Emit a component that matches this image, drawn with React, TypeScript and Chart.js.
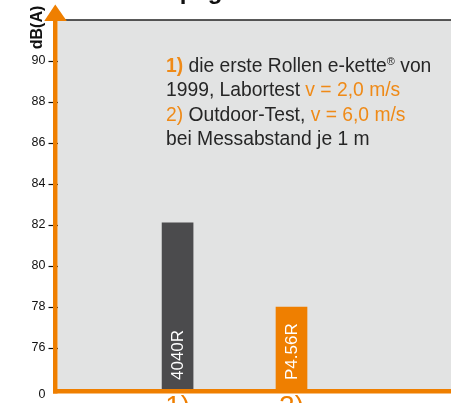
import React, { useEffect, useRef } from "react";
import { Chart, registerables } from "chart.js";

Chart.register(...registerables);

// ---- data ----
const TITLE = "Geräuschpegel";
const Y_AXIS_TITLE = "dB(A)";
const CATEGORIES = ["1)", "2)"];
const PRODUCTS = ["4040R", "P4.56R"];
const NOISE_DBA = [82.1, 78.0];
const X_POSITIONS = [1, 2];
const Y_MIN = 74;
const Y_MAX = 92;
const Y_STEP = 2;
const Y_BREAK_LABEL = "0";
const NOTE_LINES = [
  [
    { t: "1)", accent: true, bold: true },
    { t: " die erste Rollen e-kette" },
    { t: "®", sup: true },
    { t: " von" },
  ],
  [{ t: "1999, Labortest " }, { t: "v = 2,0 m/s", accent: true }],
  [{ t: "2)", accent: true }, { t: " Outdoor-Test, " }, { t: "v = 6,0 m/s", accent: true }],
  [{ t: "bei Messabstand je 1 m" }],
];

// ---- style ----
const FONT = "'Liberation Sans', Arial, Helvetica, sans-serif";
const ORANGE = "#EF7F00";
const ORANGE_TEXT = "#EF8A17";
const DARK_BAR = "#4B4B4D";
const PLOT_BG = "#E2E3E3";
const TEXT_DARK = "#262626";

const decorPlugin = {
  id: "decor",
  beforeDraw(chart: any) {
    const { ctx, chartArea: a } = chart;
    ctx.save();
    ctx.fillStyle = PLOT_BG;
    ctx.fillRect(a.left, a.top, a.right - a.left, a.bottom - a.top);
    ctx.strokeStyle = "#222";
    ctx.lineWidth = 1.5;
    ctx.beginPath();
    ctx.moveTo(a.left, a.top);
    ctx.lineTo(a.right, a.top);
    ctx.stroke();
    ctx.restore();
  },
  afterDatasetsDraw(chart: any) {
    const { ctx, chartArea: a } = chart;
    ctx.save();

    // bar labels (rotated, white)
    const meta = chart.getDatasetMeta(0);
    meta.data.forEach((el: any, i: number) => {
      ctx.save();
      ctx.translate(el.x + 0.5, a.bottom - 9);
      ctx.rotate(-Math.PI / 2);
      ctx.fillStyle = "#ffffff";
      ctx.font = `17px ${FONT}`;
      ctx.textAlign = "left";
      ctx.textBaseline = "middle";
      ctx.fillText(PRODUCTS[i], 0, 0);
      ctx.restore();
    });

    // axes (orange)
    const w = 4.5;
    ctx.fillStyle = ORANGE;
    ctx.fillRect(a.left - w, a.top, w, a.bottom - a.top + w);
    ctx.fillRect(a.left - w, a.bottom, a.right - a.left + w, w);
    // arrow
    const cx = a.left - w / 2;
    ctx.beginPath();
    ctx.moveTo(cx, 4.5);
    ctx.lineTo(cx - 11, a.top + 1);
    ctx.lineTo(cx + 11.5, a.top + 1);
    ctx.closePath();
    ctx.fill();

    // y axis title
    ctx.save();
    ctx.translate(37.5, 27.5);
    ctx.rotate(-Math.PI / 2);
    ctx.fillStyle = "#111";
    ctx.font = `bold 16px ${FONT}`;
    ctx.textAlign = "center";
    ctx.textBaseline = "middle";
    ctx.fillText(Y_AXIS_TITLE, 0, 0);
    ctx.restore();

    // broken-axis zero label
    ctx.fillStyle = "#111";
    ctx.font = `12.5px ${FONT}`;
    ctx.textAlign = "right";
    ctx.textBaseline = "middle";
    ctx.fillText(Y_BREAK_LABEL, 45.5, 395);

    // title (cut at top)
    ctx.fillStyle = "#111";
    ctx.font = `bold 24px ${FONT}`;
    ctx.textAlign = "left";
    ctx.textBaseline = "alphabetic";
    ctx.fillText(TITLE, 69, -1.5);

    // note text
    const x0 = 166;
    const baselines = [71.5, 96, 120.5, 145];
    NOTE_LINES.forEach((runs, li) => {
      let x = x0;
      const y = baselines[li];
      runs.forEach((r: any) => {
        const size = r.sup ? 11 : 19.3;
        ctx.font = `${r.bold ? "bold " : ""}${size}px ${FONT}`;
        ctx.fillStyle = r.accent ? ORANGE_TEXT : TEXT_DARK;
        ctx.textBaseline = "alphabetic";
        ctx.fillText(r.t, x, r.sup ? y - 7 : y);
        x += ctx.measureText(r.t).width;
      });
    });

    ctx.restore();
  },
};

export default function App() {
  const ref = useRef<HTMLCanvasElement | null>(null);

  useEffect(() => {
    if (!ref.current) return;
    Chart.defaults.font.family = FONT;
    const chart = new Chart(ref.current, {
      type: "bar",
      data: {
        datasets: [
          {
            label: "dB(A)",
            data: X_POSITIONS.map((x, i) => ({ x, y: NOISE_DBA[i] })),
            backgroundColor: [DARK_BAR, ORANGE],
            barThickness: 31,
            borderWidth: 0,
          },
        ],
      },
      options: {
        animation: false,
        responsive: false,
        devicePixelRatio: 1,
        layout: { padding: { top: 20, left: 0, right: 0, bottom: 0 } },
        plugins: {
          legend: { display: false },
          tooltip: { enabled: false },
          title: { display: false },
        },
        scales: {
          x: {
            type: "linear",
            offset: false,
            min: -0.054,
            max: 3.4,
            afterBuildTicks: (scale: any) => {
              scale.ticks = X_POSITIONS.map((v) => ({ value: v }));
            },
            afterFit: (scale: any) => {
              scale.height = 14;
            },
            grid: { display: false, drawTicks: false, offset: false },
            border: { display: false },
            ticks: {
              autoSkip: false,
              maxRotation: 0,
              padding: 1,
              color: ORANGE,
              font: { size: 28, family: FONT },
              callback: (v: any) => {
                const i = X_POSITIONS.indexOf(Number(v));
                return i >= 0 ? CATEGORIES[i] : "";
              },
            },
          },
          y: {
            min: Y_MIN,
            max: Y_MAX,
            afterFit: (scale: any) => {
              scale.width = 57.5;
            },
            grid: {
              drawOnChartArea: false,
              drawTicks: true,
              tickLength: 9,
              tickWidth: 1.2,
              tickColor: (c: any) =>
                c.tick && (c.tick.value === Y_MIN || c.tick.value === Y_MAX) ? "rgba(0,0,0,0)" : "#111",
            },
            border: { display: false },
            ticks: {
              stepSize: Y_STEP,
              padding: 3,
              color: "#111",
              font: { size: 12.5, family: FONT },
              callback: (v: any) => (v === Y_MIN || v === Y_MAX ? "" : String(v)),
            },
          },
        },
      },
      plugins: [decorPlugin],
    } as any);
    return () => chart.destroy();
  }, []);

  return (
    <div style={{ position: "fixed", left: 0, top: 0, width: 451, height: 403, background: "#fff" }}>
      <canvas ref={ref} width={451} height={403} style={{ display: "block" }} />
    </div>
  );
}
